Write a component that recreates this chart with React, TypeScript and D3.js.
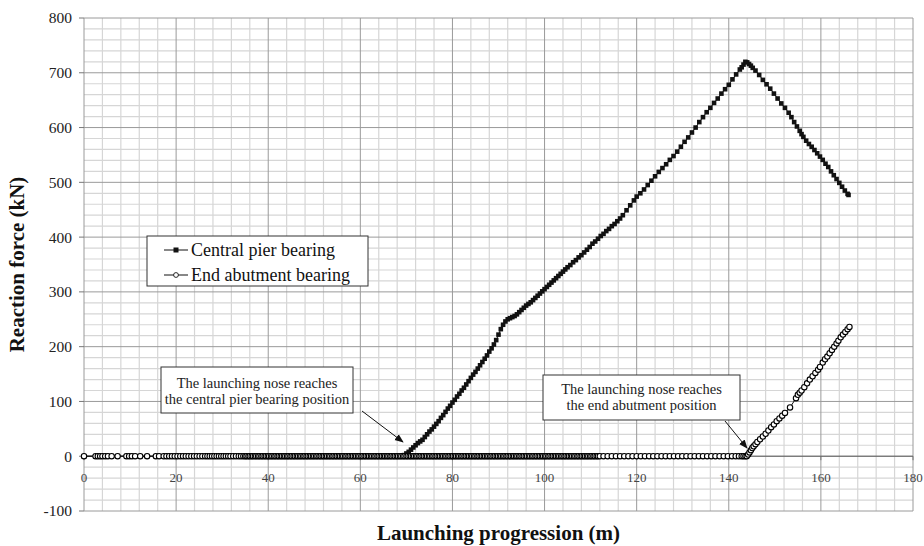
import React from "react";
import * as d3 from "d3";

// ---------- data ----------
const xTickValues = [0, 20, 40, 60, 80, 100, 120, 140, 160, 180];
const yTickValues = [-100, 0, 100, 200, 300, 400, 500, 600, 700, 800];

// x positions (m) where End abutment bearing reaction is zero
const abutZeroX = [
  0, 2.5, 3.0, 3.5, 4.0, 4.6, 5.2, 6.0, 7.3, 9.2, 9.8, 10.4, 11.1, 12.2, 13.7, 15.6, 16.3, 17.3, 17.9, 18.5,
  19.1, 19.7, 20.3, 20.9, 21.5, 22.1, 22.7, 23.3, 23.9, 24.5, 25.1, 25.7, 26.3, 26.8, 27.3, 27.8, 28.3, 28.8,
  29.3, 29.8, 30.3, 30.8, 31.3, 31.8, 32.4, 33.0, 33.6, 34.1,
  34.6, 35.0, 35.3, 35.7, 36.0, 36.4, 36.7, 37.1, 37.4, 37.8,
  38.1, 38.5, 38.8, 39.2, 39.5, 39.9, 40.2, 40.6, 40.9, 41.3,
  41.6, 42.0, 42.3, 42.7, 43.0, 43.4, 43.7, 44.1, 44.4, 44.8,
  45.1, 45.5, 45.8, 46.2, 46.5, 46.9, 47.2, 47.6, 47.9, 48.3,
  48.6, 49.0, 49.3, 49.7, 50.0, 50.4, 50.7, 51.1, 51.4, 51.8,
  52.1, 52.5, 52.8, 53.2, 53.5, 53.9, 54.2, 54.6, 54.9, 55.3,
  55.6, 56.0, 56.3, 56.7, 57.0, 57.4, 57.7, 58.1, 58.4, 58.8,
  59.1, 59.5, 59.8, 60.2, 60.5, 60.9, 61.2, 61.6, 61.9, 62.3,
  62.6, 63.0, 63.3, 63.7, 64.0, 64.4, 64.7, 65.1, 65.4, 65.8,
  66.1, 66.5, 66.8, 67.2, 67.5, 67.9, 68.2, 68.6, 68.9, 69.3,
  69.6, 70.0, 70.3, 70.7, 71.0, 71.4, 71.7, 72.1, 72.4, 72.8,
  73.1, 73.5, 73.8, 74.2, 74.5, 74.9, 75.2, 75.6, 75.9, 76.3,
  76.6, 77.0, 77.3, 77.7, 78.0, 78.4, 78.7, 79.1, 79.4, 79.8,
  80.1, 80.5, 80.8, 81.2, 81.5, 81.9, 82.2, 82.6, 82.9, 83.3,
  83.6, 84.0, 84.3, 84.7, 85.0, 85.4, 85.7, 86.1, 86.4, 86.8,
  87.1, 87.5, 87.8, 88.2, 88.5, 88.9, 89.2, 89.6, 89.9, 90.3,
  90.6, 91.0, 91.3, 91.7, 92.0, 92.4, 92.7, 93.1, 93.4, 93.8,
  94.1, 94.5, 94.8, 95.2, 95.5, 95.9, 96.2, 96.6, 96.9, 97.3,
  97.6, 98.0, 98.3, 98.7, 99.0, 99.4, 99.7, 100.1, 100.4, 100.8,
  101.1, 101.5, 101.8, 102.2, 102.5, 102.9, 103.2, 103.6, 103.9, 104.3,
  104.6, 105.0, 105.3, 105.7, 106.0, 106.4, 106.7, 107.1, 107.4, 107.8,
  108.1, 108.5, 108.8, 109.2, 109.5, 109.9, 110.2, 110.6, 110.9, 111.3,
  111.6, 112.0, 112.8, 113.7, 114.6, 115.5, 116.4, 117.3, 118.2, 119.1,
  120.0, 120.9, 121.8, 122.7, 123.6, 124.5, 125.4, 126.3, 127.2, 128.1,
  129.0, 129.9, 130.8, 131.7, 132.6, 133.5, 134.4, 135.3, 136.2, 137.1,
  138.0, 138.9, 139.8, 140.7, 141.5, 142.2, 142.8, 143.2, 143.6,
];

// End abutment bearing, rising part [x (m), reaction (kN)]
const abutRise: [number, number][] = [
  [143.9, 0], [144.2, 3], [144.5, 7], [144.8, 11], [145.1, 15], [145.4, 18], [145.8, 22], [146.2, 26],
  [146.8, 31], [147.4, 36], [148.0, 41], [148.6, 47], [149.2, 53], [149.8, 58], [150.4, 64], [151.0, 69],
  [151.6, 74], [152.2, 79], [153.3, 89], [154.6, 106], [155.0, 112], [155.4, 116], [155.8, 120], [156.4, 126],
  [157.0, 133], [157.6, 140], [158.2, 146], [158.8, 152], [159.4, 158], [159.8, 163], [160.4, 171], [160.9, 177],
  [161.4, 182], [161.9, 188], [162.4, 194], [162.9, 200], [163.4, 206], [163.8, 211], [164.3, 217], [164.8, 222],
  [165.3, 227], [165.8, 232], [166.2, 236],
];

// Central pier bearing, loaded part [x (m), reaction (kN)]
const pierRise: [number, number][] = [
  [69.0, 0], [69.5, 2], [70.0, 5], [70.5, 8], [71.0, 12], [71.5, 16], [72.0, 20], [72.5, 24], [73.0, 27],
  [73.5, 30], [74.0, 35], [74.5, 40], [75.0, 45], [75.5, 49], [76.0, 54], [76.5, 59], [77.0, 64], [77.5, 70],
  [78.0, 75], [78.5, 81], [79.0, 87], [79.5, 92], [80.0, 98], [80.5, 103], [81.0, 109], [81.5, 114], [82.0, 120],
  [82.5, 125], [83.0, 131], [83.5, 137], [84.0, 143], [84.5, 149], [85.0, 154], [85.5, 160], [86.0, 166],
  [86.5, 172], [87.0, 178], [87.5, 184], [88.0, 191], [88.5, 197], [89.0, 204], [89.5, 212], [90.0, 222],
  [90.5, 232], [91.0, 240], [91.5, 246], [92.0, 250], [92.5, 252], [93.0, 254], [93.5, 256], [94.0, 259],
  [94.5, 263], [95.0, 267], [95.5, 271], [96.0, 275], [96.5, 278], [97.0, 281], [97.5, 285], [98.0, 289],
  [98.5, 293], [99.0, 297], [99.5, 301], [100.0, 305], [100.5, 309], [101.0, 313], [101.5, 317], [102.0, 321],
  [102.5, 325], [103.0, 329], [103.5, 333], [104.0, 337], [104.5, 341], [105.0, 345], [105.6, 349], [106.2, 354],
  [106.8, 358], [107.4, 363], [108.0, 367], [108.6, 372], [109.2, 377], [109.8, 382], [110.4, 388], [111.0, 392],
  [111.6, 397], [112.2, 402], [112.8, 406], [113.4, 411], [114.0, 415], [114.6, 420], [115.2, 424], [115.8, 429],
  [116.4, 434], [117.0, 440], [117.8, 449], [118.6, 458], [119.4, 467], [120.0, 474], [120.8, 480], [121.6, 487],
  [122.4, 495], [123.2, 503], [124.0, 511], [124.8, 519], [125.6, 526], [126.4, 533], [127.2, 541], [128.0, 548],
  [128.8, 556], [129.6, 565], [130.4, 574], [131.2, 582], [132.0, 591], [132.8, 600], [133.6, 610], [134.4, 619],
  [135.2, 628], [136.0, 636], [136.8, 645], [137.6, 653], [138.4, 662], [139.2, 670], [140.0, 678], [140.8, 688],
  [141.6, 697], [142.4, 706], [142.8, 710], [143.2, 715], [143.6, 720], [144.0, 719], [144.4, 716], [144.8, 713],
  [145.2, 709], [145.8, 704], [146.6, 696], [147.4, 687], [148.2, 679], [149.0, 671], [149.8, 662], [150.6, 653],
  [151.4, 644], [152.2, 636], [153.0, 627], [153.6, 619], [154.2, 610], [154.8, 602], [155.4, 594], [155.8, 588],
  [156.2, 583], [156.8, 576], [157.4, 570], [158.0, 565], [158.6, 559], [159.2, 553], [159.8, 547], [160.4, 541],
  [161.0, 534], [161.6, 528], [162.2, 520], [162.8, 513], [163.4, 506], [164.0, 499], [164.6, 492], [165.2, 485],
  [165.8, 479], [166.0, 477],
];

const seriesNames = ["Central pier bearing", "End abutment bearing"];
const annotation1 = ["The launching nose reaches", "the central pier bearing position"];
const annotation2 = ["The launching nose reaches", "the end abutment position"];
const xTitle = "Launching progression (m)";
const yTitle = "Reaction force (kN)";

// ---------- build series ----------
const pierData: [number, number][] = [
  ...abutZeroX.filter((x) => x < 69).map((x) => [x, 0] as [number, number]),
  ...pierRise,
];
const abutData: [number, number][] = [
  ...abutZeroX.map((x) => [x, 0] as [number, number]),
  ...abutRise,
];

const W = 924;
const H = 546;
const FONT = "Liberation Serif, Times New Roman, DejaVu Serif, serif";

export default function App() {
  const x = d3.scaleLinear().domain([0, 180]).range([84, 913]);
  const y = d3.scaleLinear().domain([-100, 800]).range([511, 18]);
  const line = d3
    .line<[number, number]>()
    .x((d) => x(d[0]))
    .y((d) => y(d[1]));

  const minorX = d3.range(0, 181, 4).filter((v) => v % 20 !== 0);
  const minorY = d3.range(-100, 801, 20).filter((v) => v % 100 !== 0);
  const ts = { fontFamily: FONT };

  return (
    <svg
      width={W}
      height={H}
      style={{ position: "absolute", left: 0, top: 0, background: "#fff", fontFamily: FONT }}
    >
      <defs>
        <marker id="arr" viewBox="0 0 10 10" refX="9" refY="5" markerWidth="9" markerHeight="9" orient="auto">
          <path d="M0,1 L10,5 L0,9 z" fill="#111" />
        </marker>
      </defs>
      <rect x={0} y={0} width={W} height={H} fill="#fff" />
      {/* minor grid */}
      {minorX.map((v) => (
        <line key={"mx" + v} x1={x(v)} x2={x(v)} y1={y(-100)} y2={y(800)} stroke="#d6d6d6" strokeWidth={1.2} />
      ))}
      {minorY.map((v) => (
        <line key={"my" + v} x1={x(0)} x2={x(180)} y1={y(v)} y2={y(v)} stroke="#d6d6d6" strokeWidth={1.2} />
      ))}
      {/* major grid */}
      {xTickValues.map((v) => (
        <line key={"Mx" + v} x1={x(v)} x2={x(v)} y1={y(-100)} y2={y(800)} stroke="#9a9a9a" strokeWidth={1} />
      ))}
      {yTickValues.map((v) => (
        <line key={"My" + v} x1={x(0)} x2={x(180)} y1={y(v)} y2={y(v)} stroke="#9a9a9a" strokeWidth={1} />
      ))}
      {/* y ticks */}
      {yTickValues.map((v) => (
        <g key={"yt" + v}>
          <line x1={x(0) - 5} x2={x(0)} y1={y(v)} y2={y(v)} stroke="#777" />
          <text x={72} y={y(v)} dy="0.35em" textAnchor="end" fontSize={15.5} fill="#222" style={ts}>
            {v}
          </text>
        </g>
      ))}
      {/* x ticks */}
      {xTickValues.map((v) => (
        <g key={"xt" + v}>
          <line x1={x(v)} x2={x(v)} y1={y(0)} y2={y(0) + 4} stroke="#777" />
          <text x={x(v)} y={482} textAnchor="middle" fontSize={13} fill="#444" style={ts}>
            {v}
          </text>
        </g>
      ))}
      <line x1={x(0)} x2={x(180)} y1={y(0)} y2={y(0)} stroke="#666" />

      {/* series: central pier */}
      <path d={line(pierData) || ""} fill="none" stroke="#111" strokeWidth={1} />
      {pierData.map((d, i) => (
        <rect key={"p" + i} x={x(d[0]) - 2.3} y={y(d[1]) - 2.3} width={4.6} height={4.6} fill="#111" />
      ))}
      {/* series: end abutment */}
      <path d={line(abutData) || ""} fill="none" stroke="#111" strokeWidth={1} />
      {abutData.map((d, i) => (
        <circle key={"a" + i} cx={x(d[0])} cy={y(d[1])} r={2.7} fill="#fff" stroke="#000" strokeWidth={1.1} />
      ))}

      {/* legend */}
      <rect x={147} y={236} width={221} height={50} fill="#fff" stroke="#333" strokeWidth={1} />
      <line x1={164} x2={188} y1={250} y2={250} stroke="#111" />
      <rect x={173.5} y={247.5} width={5} height={5} fill="#111" />
      <text x={191} y={250} dy="0.35em" fontSize={18} fill="#111" style={ts}>{seriesNames[0]}</text>
      <line x1={164} x2={188} y1={275} y2={275} stroke="#111" />
      <circle cx={176} cy={275} r={2.4} fill="#fff" stroke="#111" strokeWidth={0.9} />
      <text x={191} y={275} dy="0.35em" fontSize={18} fill="#111" style={ts}>{seriesNames[1]}</text>

      {/* annotation 1 */}
      <rect x={161} y={367} width={192} height={46} fill="#fff" stroke="#333" strokeWidth={1} />
      <text x={257} y={383} dy="0.35em" textAnchor="middle" fontSize={14.5} fill="#222" style={ts}>{annotation1[0]}</text>
      <text x={257} y={399} dy="0.35em" textAnchor="middle" fontSize={14.5} fill="#222" style={ts}>{annotation1[1]}</text>
      <line x1={362} y1={411} x2={403} y2={442} stroke="#111" strokeWidth={1} markerEnd="url(#arr)" />

      {/* annotation 2 */}
      <rect x={543} y={375} width={197} height={45} fill="#fff" stroke="#333" strokeWidth={1} />
      <text x={641.5} y={389} dy="0.35em" textAnchor="middle" fontSize={14.5} fill="#222" style={ts}>{annotation2[0]}</text>
      <text x={641.5} y={405} dy="0.35em" textAnchor="middle" fontSize={14.5} fill="#222" style={ts}>{annotation2[1]}</text>
      <line x1={725} y1={421} x2={747} y2={448} stroke="#111" strokeWidth={1} markerEnd="url(#arr)" />

      {/* axis titles */}
      <text
        transform={`translate(24,${(y(-100) + y(800)) / 2}) rotate(-90)`}
        textAnchor="middle"
        fontSize={21}
        fontWeight="bold"
        fill="#111"
        style={ts}
      >
        {yTitle}
      </text>
      <text x={(x(0) + x(180)) / 2} y={540} textAnchor="middle" fontSize={21} fontWeight="bold" fill="#111" style={ts}>
        {xTitle}
      </text>
    </svg>
  );
}
